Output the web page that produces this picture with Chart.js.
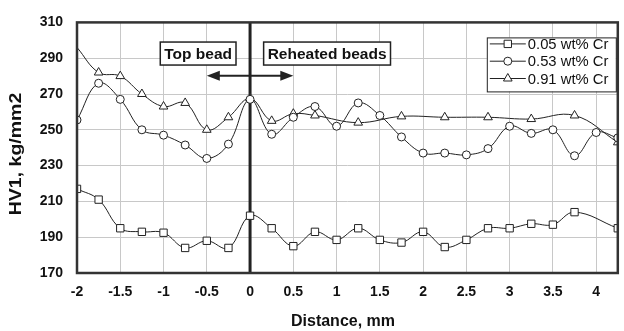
<!DOCTYPE html>
<html>
<head>
<meta charset="utf-8">
<script src="https://cdn.jsdelivr.net/npm/chart.js@4/dist/chart.umd.min.js"></script>
<style>
  html, body { margin: 0; padding: 0; background: #fff; }
  #wrap { width: 624px; height: 331px; position: relative; }
</style>
</head>
<body>
<div id="wrap"><canvas id="hvChart"></canvas></div>
<script>
// values
const seriesNames = ["0.05 wt% Cr", "0.53 wt% Cr", "0.91 wt% Cr"]

const crLowX = [-2, -1.75, -1.5, -1.25, -1, -0.75, -0.5, -0.25, 0, 0.25, 0.5, 0.75, 1, 1.25, 1.5, 1.75, 2, 2.25, 2.5, 2.75, 3, 3.25, 3.5, 3.75, 4.25]
const crLowHV = [217, 211, 195, 193, 192.5, 184, 188, 184, 202, 195, 185, 193, 188.5, 195, 188.5, 187, 193, 184.5, 188.5, 195, 195, 197.5, 197, 204, 195]

const crMidX = [-2, -1.75, -1.5, -1.25, -1, -0.75, -0.5, -0.25, 0, 0.25, 0.5, 0.75, 1, 1.25, 1.5, 1.75, 2, 2.25, 2.5, 2.75, 3, 3.25, 3.5, 3.75, 4, 4.25]
const crMidHV = [255.5, 276, 267, 250, 247, 241.5, 234, 242, 267, 247.5, 257, 263, 252, 265, 258, 246, 237, 237, 236, 239.5, 252, 248, 250, 235.5, 248.5, 245.5]

const crHighX = [-2, -1.75, -1.5, -1.25, -1, -0.75, -0.5, -0.25, 0, 0.25, 0.5, 0.75, 1.25, 1.75, 2.25, 2.75, 3.25, 3.75, 4.25]
const crHighHV = [296, 282, 280, 270, 263, 265, 250, 257, 267.5, 255, 259, 258, 254, 257.5, 257, 257, 256, 258, 243]

const xTicks = [-2, -1.5, -1, -0.5, 0, 0.5, 1, 1.5, 2, 2.5, 3, 3.5, 4]
const yTicks = [170, 190, 210, 230, 250, 270, 290, 310]

const xTitle = "Distance, mm"
const yTitle = "HV1, kg/mm2"

// annotation labels: text, centre x (mm), centre y (HV)
const noteTexts = ["Top bead", "Reheated beads"]
const noteX = [-0.6, 0.89]
const noteY = [292.6, 292.6]
const arrowFrom = -0.5, arrowTo = 0.5, arrowAt = 280.2

const FONT = "'Liberation Sans', Arial, Helvetica, sans-serif"
const INK = "#222"

function toPoints(xs, ys) {
    return xs.map((x, i) => ({ x: x, y: ys[i] }))
}

function makeSet(label, xs, ys, style, radius) {
    return {
        label: label,
        data: toPoints(xs, ys),
        borderColor: INK,
        borderWidth: 1,
        backgroundColor: "#fff",
        pointStyle: style,
        pointRadius: radius,
        pointBorderWidth: 1,
        pointBorderColor: INK,
        pointBackgroundColor: "#fff",
        tension: 0.4,
        clip: 0
    }
}

// frame, x=0 divider, titles, note boxes, arrow and legend box
const decorPlugin = {
    id: "decor",
    beforeDatasetsDraw(chart) {
        const { ctx, scales: { x, y } } = chart
        const x0 = x.getPixelForValue(0)
        ctx.save()
        ctx.strokeStyle = INK
        ctx.lineWidth = 3
        ctx.beginPath()
        ctx.moveTo(x0, y.top)
        ctx.lineTo(x0, y.bottom)
        ctx.stroke()
        ctx.restore()
    },
    afterDraw(chart) {
        const { ctx, chartArea: a, scales: { x, y } } = chart
        ctx.save()

        // frame
        ctx.strokeStyle = "#333"
        ctx.lineWidth = 2.5
        ctx.strokeRect(a.left, a.top, a.right - a.left, a.bottom - a.top)

        // axis titles
        ctx.fillStyle = "#111"
        ctx.textAlign = "center"
        ctx.textBaseline = "middle"
        ctx.font = "bold 16px " + FONT
        ctx.fillText(xTitle, 343, 322)
        ctx.save()
        ctx.translate(17, 154)
        ctx.rotate(-Math.PI / 2)
        ctx.scale(1.22, 1)
        ctx.fillText(yTitle, 0, 0)
        ctx.restore()

        // note boxes
        ctx.font = "bold 15.5px " + FONT
        noteTexts.forEach((t, i) => {
            const cx = x.getPixelForValue(noteX[i])
            const cy = y.getPixelForValue(noteY[i])
            const w = ctx.measureText(t).width + 8
            const h = 23
            ctx.fillStyle = "#fff"
            ctx.fillRect(cx - w / 2, cy - h / 2, w, h)
            ctx.strokeStyle = INK
            ctx.lineWidth = 1.5
            ctx.strokeRect(cx - w / 2, cy - h / 2, w, h)
            ctx.fillStyle = "#111"
            ctx.fillText(t, cx, cy + 1)
        })

        // double arrow
        const ax1 = x.getPixelForValue(arrowFrom)
        const ax2 = x.getPixelForValue(arrowTo)
        const ay = y.getPixelForValue(arrowAt)
        ctx.strokeStyle = INK
        ctx.fillStyle = INK
        ctx.lineWidth = 2
        ctx.beginPath()
        ctx.moveTo(ax1 + 8, ay)
        ctx.lineTo(ax2 - 8, ay)
        ctx.stroke()
        ctx.beginPath()
        ctx.moveTo(ax1, ay)
        ctx.lineTo(ax1 + 13, ay - 5)
        ctx.lineTo(ax1 + 13, ay + 5)
        ctx.closePath()
        ctx.fill()
        ctx.beginPath()
        ctx.moveTo(ax2, ay)
        ctx.lineTo(ax2 - 13, ay - 5)
        ctx.lineTo(ax2 - 13, ay + 5)
        ctx.closePath()
        ctx.fill()

        // legend
        const lx = a.right - 131, ly = a.top + 15, lw = 129, lh = 54
        ctx.fillStyle = "#fff"
        ctx.fillRect(lx, ly, lw, lh)
        ctx.strokeStyle = INK
        ctx.lineWidth = 1
        ctx.strokeRect(lx + 0.5, ly + 0.5, lw, lh)
        ctx.font = "14.8px " + FONT
        ctx.textAlign = "left"
        chart.data.datasets.forEach((ds, i) => {
            const ry = ly + 6.5 + i * 17.3
            ctx.strokeStyle = INK
            ctx.lineWidth = 1
            ctx.beginPath()
            ctx.moveTo(lx + 3, ry)
            ctx.lineTo(lx + 39, ry)
            ctx.stroke()
            ctx.fillStyle = "#fff"
            ctx.strokeStyle = INK
            Chart.helpers.drawPoint(ctx, {
                pointStyle: ds.pointStyle,
                radius: ds.legendRadius,
                borderWidth: 1,
                rotation: 0
            }, lx + 21, ry)
            ctx.fillStyle = "#111"
            ctx.fillText(ds.label, lx + 41, ry + 1)
        })
        ctx.restore()
    }
}

function loadChart() {
    const ctx = document.getElementById("hvChart")
    const low = makeSet(seriesNames[0], crLowX, crLowHV, "rect", 5.2)
    const mid = makeSet(seriesNames[1], crMidX, crMidHV, "circle", 4)
    const high = makeSet(seriesNames[2], crHighX, crHighHV, "triangle", 5)
    low.legendRadius = 5.2
    mid.legendRadius = 4
    high.legendRadius = 5
    // first triangle sits under the frame in the original, only the line shows
    high.pointRadius = (c) => (c.raw && c.raw.x <= -2 ? 0 : 5)

    new Chart(ctx, {
        type: "line",
        data: { datasets: [low, mid, high] },
        options: {
            responsive: true,
            maintainAspectRatio: false,
            animation: false,
            layout: { padding: { left: 0, top: 19, right: 2.5, bottom: 0 } },
            plugins: {
                legend: { display: false },
                tooltip: { enabled: false }
            },
            scales: {
                x: {
                    type: "linear",
                    min: -2,
                    max: 4.25,
                    afterBuildTicks: (s) => { s.ticks = xTicks.map(v => ({ value: v })) },
                    afterFit: (s) => { s.height = 58 },
                    grid: { color: "#c8c8c8", lineWidth: 1, drawTicks: false },
                    border: { display: false },
                    ticks: {
                        padding: 11,
                        color: "#111",
                        font: { family: FONT, size: 14, weight: "bold" },
                        maxRotation: 0,
                        callback: (v) => String(v)
                    }
                },
                y: {
                    min: 170,
                    max: 310,
                    afterBuildTicks: (s) => { s.ticks = yTicks.map(v => ({ value: v })) },
                    afterFit: (s) => { s.width = 77 },
                    grid: { color: "#c8c8c8", lineWidth: 1, drawTicks: false },
                    border: { display: false },
                    ticks: {
                        padding: 14,
                        color: "#111",
                        font: { family: FONT, size: 14, weight: "bold" }
                    }
                }
            }
        },
        plugins: [decorPlugin]
    })
}

window.addEventListener("load", loadChart)
</script>
</body>
</html>
